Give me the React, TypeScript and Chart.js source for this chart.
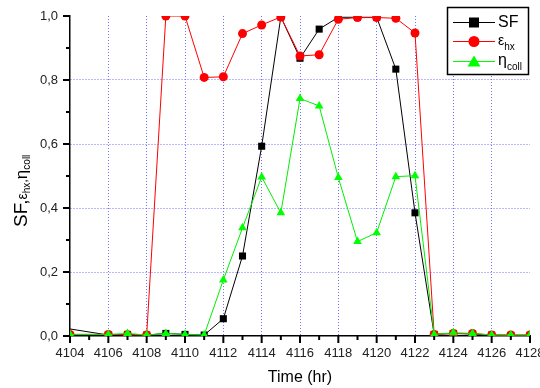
import React, { useEffect, useRef } from "react";
import { Chart, registerables } from "chart.js";

Chart.register(...registerables);

const hours = [4104, 4106, 4107, 4108, 4109, 4110, 4111, 4112, 4113, 4114, 4115, 4116, 4117, 4118, 4119, 4120, 4121, 4122, 4123, 4124, 4125, 4126, 4127, 4128];
const sfHours = [4102, 4106, 4107, 4108, 4109, 4110, 4111, 4112, 4113, 4114, 4115, 4116, 4117, 4118, 4119, 4120, 4121, 4122, 4123, 4124, 4125, 4126, 4127, 4128];
const sfValues = [0.041, 0.003, 0.005, 0.003, 0.008, 0.005, 0.003, 0.054, 0.25, 0.593, 0.997, 0.868, 0.959, 0.996, 0.996, 0.996, 0.834, 0.385, 0.005, 0.008, 0.006, 0.003, 0.002, 0.002];
const ehxValues = [0.005, 0.005, 0.004, 0.003, 1.0, 1.0, 0.808, 0.81, 0.945, 0.972, 0.997, 0.875, 0.879, 0.99, 0.995, 0.995, 0.993, 0.947, 0.005, 0.008, 0.008, 0.003, 0.003, 0.003];
const etaValues = [0.005, 0.005, 0.008, 0.003, 0.008, 0.005, 0.003, 0.175, 0.338, 0.497, 0.385, 0.742, 0.719, 0.495, 0.295, 0.323, 0.498, 0.501, 0.005, 0.01, 0.008, 0.003, 0.003, 0.003];

const xMin = 4104;
const xMax = 4128;
const FONT = "'Liberation Sans', Arial, sans-serif";

type Seg = { t: string; size: number; dy: number };

function drawSegs(ctx: CanvasRenderingContext2D, segs: Seg[], x: number, y: number) {
  let cx = x;
  for (const s of segs) {
    ctx.font = `${s.size}px ${FONT}`;
    ctx.fillText(s.t, cx, y + s.dy);
    cx += ctx.measureText(s.t).width;
  }
}

const clipPlugin = {
  id: "clipArea",
  beforeDatasetsDraw(chart: any) {
    const { ctx, chartArea: a } = chart;
    ctx.save();
    ctx.beginPath();
    ctx.rect(a.left, a.top, a.right - a.left, a.bottom - a.top);
    ctx.clip();
  },
  afterDatasetsDraw(chart: any) {
    chart.ctx.restore();
  },
};

const annotPlugin = {
  id: "annot",
  afterDraw(chart: any) {
    const ctx: CanvasRenderingContext2D = chart.ctx;
    const a = chart.chartArea;
    ctx.save();
    ctx.setLineDash([]);
    // tick marks (major / minor)
    ctx.strokeStyle = "#000000";
    ctx.lineWidth = 2;
    const xs = chart.scales.x, ys = chart.scales.y;
    ctx.beginPath();
    for (let v = xMin; v <= xMax; v++) {
      const px = xs.getPixelForValue(v);
      const len = v % 2 === 0 ? 7 : 4;
      ctx.moveTo(px, a.bottom);
      ctx.lineTo(px, a.bottom + len);
    }
    for (let k = 0; k <= 10; k++) {
      const py = ys.getPixelForValue(k / 10);
      const len = k % 2 === 0 ? 7 : 4;
      ctx.moveTo(a.left, py);
      ctx.lineTo(a.left - len, py);
    }
    ctx.stroke();

    ctx.fillStyle = "#000";
    ctx.textBaseline = "alphabetic";
    ctx.textAlign = "left";
    // Y axis title, rotated
    ctx.save();
    ctx.translate(27, 227);
    ctx.rotate(-Math.PI / 2);
    drawSegs(ctx, [
      { t: "SF,", size: 19, dy: 0 },
      { t: "ε", size: 14, dy: 0 },
      { t: "hx", size: 10, dy: 3 },
      { t: ",", size: 13, dy: 0 },
      { t: "η", size: 17, dy: 0 },
      { t: "coll", size: 10, dy: 3 },
    ], 0, 0);
    ctx.restore();

    // Legend
    const bx = 447.5, by = 7.5, bw = 81, bh = 67;
    ctx.fillStyle = "#fff";
    ctx.fillRect(bx, by, bw, bh);
    ctx.strokeStyle = "#000";
    ctx.lineWidth = 1.5;
    ctx.strokeRect(bx, by, bw, bh);
    const items = [
      { color: "#000000", y: 22, style: "rect" },
      { color: "#ff0000", y: 41, style: "circle" },
      { color: "#00ff00", y: 61, style: "triangle" },
    ];
    for (const it of items) {
      ctx.strokeStyle = it.color;
      ctx.fillStyle = it.color;
      ctx.lineWidth = 1;
      ctx.beginPath();
      ctx.moveTo(453, it.y + 0.5);
      ctx.lineTo(495, it.y + 0.5);
      ctx.stroke();
      const mx = 474, my = it.y + 0.5;
      ctx.beginPath();
      if (it.style === "rect") {
        ctx.rect(mx - 5, my - 5, 10, 10);
      } else if (it.style === "circle") {
        ctx.arc(mx, my, 5.5, 0, Math.PI * 2);
      } else {
        ctx.moveTo(mx, my - 6);
        ctx.lineTo(mx + 6.5, my + 5);
        ctx.lineTo(mx - 6.5, my + 5);
        ctx.closePath();
      }
      ctx.fill();
    }
    ctx.fillStyle = "#000";
    drawSegs(ctx, [{ t: "SF", size: 16, dy: 0 }], 498, 27);
    drawSegs(ctx, [{ t: "ε", size: 14, dy: 0 }, { t: "hx", size: 10, dy: 5 }], 498, 45);
    drawSegs(ctx, [{ t: "η", size: 16, dy: 0 }, { t: "coll", size: 10, dy: 5 }], 498, 65);
    ctx.restore();
  },
};

const gridBlue = "rgba(100,100,255,0.9)";

export default function App() {
  const ref = useRef<HTMLCanvasElement | null>(null);
  useEffect(() => {
    if (!ref.current) return;
    const mk = (xs: number[], ys: number[]) => xs.map((x, i) => ({ x, y: ys[i] }));
    const chart = new Chart(ref.current, {
      type: "line",
      data: {
        datasets: [
          {
            label: "SF",
            data: mk(sfHours, sfValues),
            borderColor: "#000000",
            backgroundColor: "#000000",
            borderWidth: 1,
            pointStyle: "rect",
            pointRadius: 5,
            pointBorderWidth: 0,
            clip: 0,
            order: 3,
          },
          {
            label: "ehx",
            data: mk(hours, ehxValues),
            borderColor: "#ff0000",
            backgroundColor: "#ff0000",
            borderWidth: 1,
            pointStyle: "circle",
            pointRadius: 4.5,
            pointBorderWidth: 0,
            clip: 0,
            order: 2,
          },
          {
            label: "eta",
            data: mk(hours, etaValues),
            borderColor: "#00ee00",
            backgroundColor: "#00ff00",
            borderWidth: 1,
            pointStyle: "triangle",
            pointRadius: 5,
            pointBorderWidth: 0,
            clip: 0,
            order: 1,
          },
        ],
      },
      options: {
        animation: false,
        responsive: false,
        devicePixelRatio: 1,
        layout: { padding: { left: 0, right: 30, top: 16, bottom: 0 } },
        plugins: { legend: { display: false }, tooltip: { enabled: false } },
        scales: {
          x: {
            type: "linear",
            min: xMin,
            max: xMax,
            afterFit: (s: any) => { s.height = 52; },
            ticks: {
              stepSize: 1,
              autoSkip: false,
              maxRotation: 0,
              padding: 3,
              color: "#222",
              font: { family: FONT, size: 13 },
              callback: (v: any) => (Math.round(v) % 2 === 0 ? String(Math.round(v)) : ""),
            },
            grid: {
              color: (c: any) => {
                const v = Math.round(c.tick?.value ?? 0);
                return v % 2 === 0 && v !== xMin && v !== xMax ? gridBlue : "rgba(0,0,0,0)";
              },
              drawTicks: true,
              tickLength: 7,
              tickColor: "rgba(0,0,0,0)",
              lineWidth: 1,
            },
            border: { display: true, color: "#000", width: 1.5, dash: [1, 2] },
            title: {
              display: true,
              text: "Time (hr)",
              color: "#000",
              font: { family: FONT, size: 16 },
              padding: { top: 4, bottom: 1 },
            },
          },
          y: {
            min: 0,
            max: 1,
            afterFit: (s: any) => { s.width = 70; },
            ticks: {
              stepSize: 0.1,
              autoSkip: false,
              padding: 0,
              color: "#222",
              font: { family: FONT, size: 13 },
              callback: (v: any) => {
                const k = Math.round(v * 10);
                return k % 2 === 0 ? (k / 10).toFixed(1).replace(".", ",") : "";
              },
            },
            grid: {
              color: (c: any) => {
                const k = Math.round((c.tick?.value ?? 0) * 10);
                return k % 2 === 0 && k !== 0 && k !== 10 ? gridBlue : "rgba(0,0,0,0)";
              },
              drawTicks: true,
              tickLength: 12,
              tickColor: "rgba(0,0,0,0)",
              lineWidth: 1,
            },
            border: { display: true, color: "#000", width: 1.5, dash: [1, 2] },
          },
        },
      },
      plugins: [clipPlugin, annotPlugin],
    } as any);
    return () => chart.destroy();
  }, []);
  return (
    <div style={{ position: "fixed", left: 0, top: 0, width: 540, height: 388, overflow: "hidden", background: "#fff" }}>
      <canvas ref={ref} width={560} height={388} style={{ display: "block" }} />
    </div>
  );
}
